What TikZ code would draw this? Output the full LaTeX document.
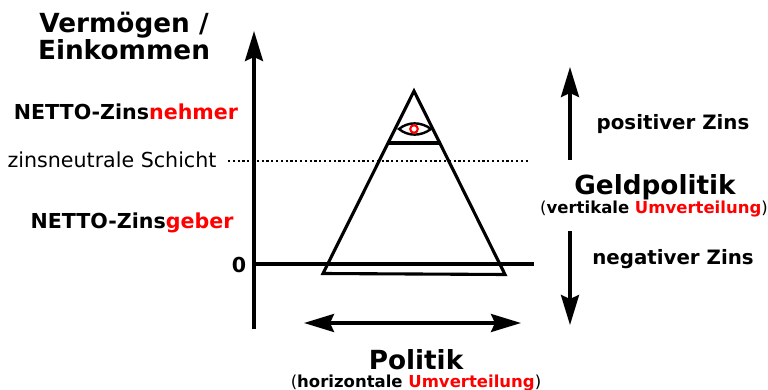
\documentclass[tikz,border=0pt]{standalone}
\usepackage{fontspec}
\setmainfont{DejaVu Sans}
\definecolor{rd}{RGB}{255,0,0}
\usetikzlibrary{arrows.meta}
\tikzset{
 lbl/.style={inner sep=0pt,anchor=base,font=\bfseries\fontsize{20.6}{24}\selectfont},
 big/.style={lbl,font=\bfseries\fontsize{26.3}{30}\selectfont},
 sub/.style={lbl,font=\fontsize{16.5}{20}\selectfont},
 side/.style={lbl,font=\bfseries\fontsize{19.8}{24}\selectfont},
 thick line/.style={line width=3.1pt},
 tip/.tip={Stealth[length=30pt,width=18pt,inset=4pt]},
 arr/.style={line width=3.4pt,-tip},
}
\begin{document}
\begin{tikzpicture}[x=1pt,y=-1pt]
\useasboundingbox (0,0) rectangle (768,390);
\coordinate (axb) at (254,329);
\coordinate (axt) at (254,31);
\draw[arr] (axb) -- (axt);
\coordinate (z0) at (254,264);
\coordinate (z1) at (534,264);
\draw[thick line] (z0) -- (z1);
\coordinate (d0) at (228,161);
\coordinate (d1) at (528,161);
\draw[line width=2.2pt,dash pattern=on 2.2pt off 2.6pt] (d0) -- (d1);
\coordinate (a) at (414,91);
\coordinate (b) at (323,273.5);
\coordinate (c) at (505,274.5);
\draw[thick line,line join=miter] (a) -- (c) -- (b) -- cycle;
\coordinate (e0) at (388,143);
\coordinate (e1) at (441,143);
\draw[thick line] (e0) -- (e1);
\draw[line width=2.4pt] (399,129) .. controls (408,121.5) and (421,121.5) .. (431,129) .. controls (421,136.5) and (408,136.5) .. (399,129) -- cycle;
\draw[rd,line width=2.1pt] (414,129) circle (3.8);
\coordinate (u0) at (570,160);
\coordinate (u1) at (570,67);
\draw[arr] (u0) -- (u1);
\coordinate (v0) at (570,231);
\coordinate (v1) at (570,325);
\draw[arr] (v0) -- (v1);
\coordinate (h0) at (304,323);
\coordinate (h1) at (521,323);
\draw[line width=3.4pt,tip-tip] (h0) -- (h1);
\node[big] (t1) at (124,33) {Vermögen /};
\node[big] (t2) at (124,59.5) {Einkommen};
\node[lbl] (n1) at (126,120) {NETTO-Zins\textcolor{rd}{nehmer}};
\node[lbl,font=\fontsize{20.6}{24}\selectfont] (n2) at (112,168) {zinsneutrale Schicht};
\node[lbl] (n3) at (132,229) {NETTO-Zins\textcolor{rd}{geber}};
\node[lbl] (n0) at (239,272) {0};
\node[side] (p) at (673,129.5) {positiver Zins};
\node[side] (m) at (673,264) {negativer Zins};
\node[big] (g) at (655,195) {Geldpolitik};
\node[sub] (g2) at (654,213.5) {(\textbf{vertikale \textcolor{rd}{Umverteilung}})};
\node[big] (q) at (416,369) {Politik};
\node[sub] (q2) at (416,387) {(\textbf{horizontale \textcolor{rd}{Umverteilung}})};
\end{tikzpicture}
\end{document}
